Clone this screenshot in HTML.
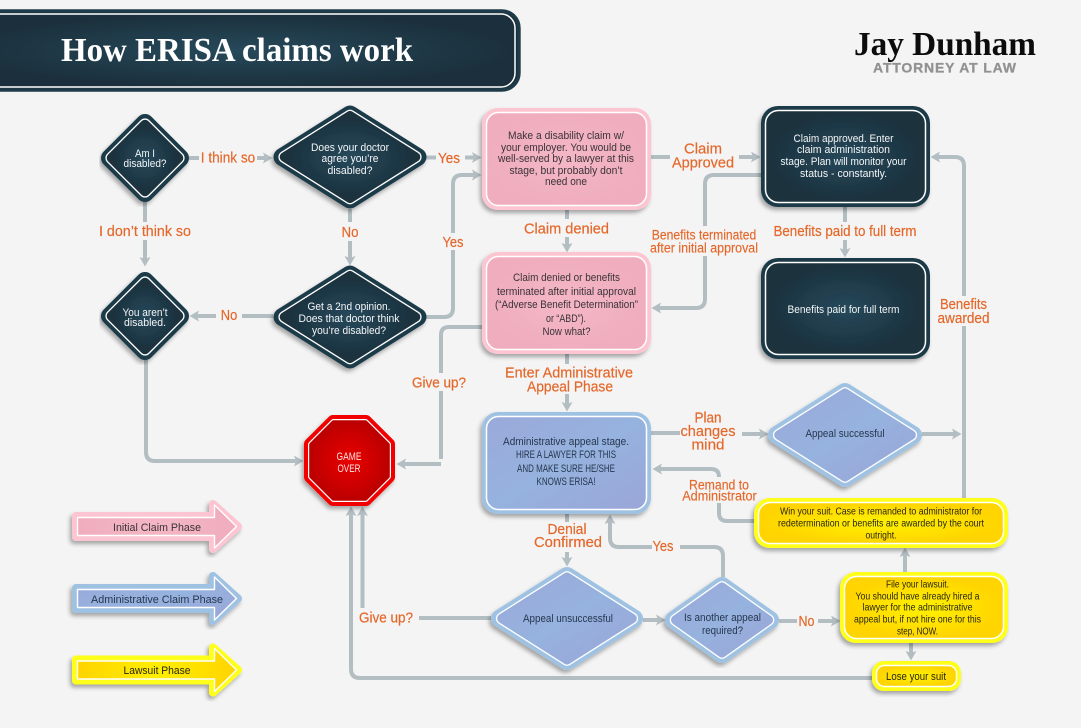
<!DOCTYPE html>
<html><head><meta charset="utf-8"><title>How ERISA claims work</title>
<style>
html,body{margin:0;padding:0;background:#f4f4f4}
svg{display:block}
text{font-family:"Liberation Sans",sans-serif;text-anchor:middle}
.o{fill:#e5682a;font-size:15px;stroke:#e5682a;stroke-width:.2px}
.s{fill:#e5682a;font-size:13.5px;stroke:#e5682a;stroke-width:.15px}
.w{fill:#f4f6f7;font-size:11px}
.p{fill:#3a3338;font-size:11px}
.b{fill:#26374f;font-size:11px}
.y{fill:#26260f;font-size:10.5px}
.c{fill:none;stroke:#b3bec3;stroke-width:4}
.a{marker-end:url(#ah)}
</style></head><body>
<svg width="1081" height="728" viewBox="0 0 1081 728" xmlns="http://www.w3.org/2000/svg">
<defs>
<radialGradient id="gd"><stop offset="0" stop-color="#26495b"/><stop offset="1" stop-color="#1b303c"/></radialGradient>
<radialGradient id="gp"><stop offset="0" stop-color="#f5b7c6"/><stop offset="1" stop-color="#efadbd"/></radialGradient>
<linearGradient id="gb" x1="0" y1="0" x2="1" y2="1"><stop offset="0" stop-color="#9aa9d9"/><stop offset=".5" stop-color="#96b2de"/><stop offset="1" stop-color="#9aa6d8"/></linearGradient>
<radialGradient id="gy"><stop offset="0" stop-color="#fff200"/><stop offset="1" stop-color="#ffd400"/></radialGradient>
<linearGradient id="gyl"><stop offset="0" stop-color="#ffd400"/><stop offset=".5" stop-color="#ffee00"/><stop offset="1" stop-color="#ffd400"/></linearGradient>
<radialGradient id="gr"><stop offset="0" stop-color="#ea0000"/><stop offset="1" stop-color="#bd0000"/></radialGradient>
<filter id="sh" x="-15%" y="-15%" width="130%" height="135%"><feDropShadow dx="-2" dy="3" stdDeviation="2.2" flood-color="#000" flood-opacity=".33"/></filter>
<marker id="ah" markerUnits="userSpaceOnUse" markerWidth="11" markerHeight="13" refX="2" refY="6.5" orient="auto" viewBox="0 0 11 13"><path d="M0,1 L9.5,6.5 L0,12 L2,6.5Z" fill="#b3bec3"/></marker>
</defs>
<rect width="1081" height="728" fill="#f4f4f4"/>

<!-- header -->
<rect x="-40" y="11" width="559" height="79" rx="17" fill="url(#gd)" stroke="#1f3b49" stroke-width="3.4"/>
<rect x="-40" y="14" width="555" height="73" rx="14" fill="url(#gd)" stroke="#fff" stroke-width="1.5"/>
<text x="237" y="61" textLength="352" lengthAdjust="spacingAndGlyphs" style="font-family:'Liberation Serif',serif;font-weight:bold;font-size:34px;fill:#fff">How ERISA claims work</text>
<text x="945" y="55" textLength="182" lengthAdjust="spacingAndGlyphs" style="font-family:'Liberation Serif',serif;font-weight:bold;font-size:34px;fill:#0c0c0c">Jay Dunham</text>
<text x="944.500" y="72.500" textLength="143" lengthAdjust="spacing" style="font-weight:bold;font-size:14px;fill:#929292;stroke:#929292;stroke-width:.3px">ATTORNEY AT LAW</text>

<!-- connectors -->
<g class="c" fill="none">
<path d="M189,158H199"/><path class="a" d="M257,158H265"/>
<path d="M426,157.500H436"/><path class="a" d="M465,157.500H474"/>
<path d="M426,317H444Q453,317 453,308V250"/><path class="a" d="M453,233V184Q453,175 462,175H474"/>
<path d="M350,209V222"/><path class="a" d="M350,241V258"/>
<path d="M145,202V222"/><path class="a" d="M145,240V259"/>
<path d="M273,316H242"/><path class="a" d="M216,316H197"/>
<path class="a" d="M146,360V452Q146,461 155,461H296"/>
<path d="M482,327H449Q441,327 441,335V373"/><path d="M441,391V459"/><path class="a" d="M441,464H404"/>
<path d="M567,210V219"/><path class="a" d="M567,237V245"/>
<path d="M567,354V364"/><path class="a" d="M567,394V404"/>
<path d="M567,514V522"/><path class="a" d="M567,552V559"/>
<path d="M651,157H670"/><path class="a" d="M739,157H753"/>
<path d="M761,175H714Q705,175 705,184V226"/><path class="a" d="M705,256V299Q705,308 696,308H659"/>
<path d="M845,207V222"/><path class="a" d="M845,240V250"/>
<path d="M964,498V326"/><path class="a" d="M964,296V166Q964,157 955,157H938"/>
<path d="M651,433H680"/><path class="a" d="M742,434H761"/>
<path class="a" d="M922,434H954"/>
<path d="M754,521H727Q719,521 719,513V503"/><path class="a" d="M719,477Q719,469 711,469H660"/>
<path d="M723,577V556Q723,547 714,547H680"/><path class="a" d="M652,547H619Q610,547 610,538V522"/>
<path class="a" d="M643,620H658"/>
<path d="M779,621H797"/><path class="a" d="M818,621H833"/>
<path class="a" d="M905,572V555"/>
<path class="a" d="M911,643V653"/>
<path class="a" d="M872,678H360Q351,678 351,669V514"/>
<path d="M491,618H419"/>
<path class="a" d="M362.500,608V514"/>
</g>

<!-- dark diamonds -->
<g filter="url(#sh)"><polygon points="145,123 180,158 145,193 110,158" fill="#1f3a48" stroke="#1f3a48" stroke-width="18" stroke-linejoin="round"/>
<polygon points="145,124.400 178.600,158 145,191.600 111.400,158" fill="#fff" stroke="#fff" stroke-width="12" stroke-linejoin="round"/>
<polygon points="145,124.400 178.600,158 145,191.600 111.400,158" fill="url(#gd)" stroke="url(#gd)" stroke-width="9.400" stroke-linejoin="round"/></g>
<g filter="url(#sh)"><polygon points="350,114.500 417.500,157 350,199.500 282.500,157" fill="#1f3a48" stroke="#1f3a48" stroke-width="18" stroke-linejoin="round"/>
<polygon points="350,115.700 415.600,157 350,198.300 284.400,157" fill="#fff" stroke="#fff" stroke-width="12" stroke-linejoin="round"/>
<polygon points="350,115.700 415.600,157 350,198.300 284.400,157" fill="url(#gd)" stroke="url(#gd)" stroke-width="9.400" stroke-linejoin="round"/></g>
<g filter="url(#sh)"><polygon points="145,281 180,316 145,351 110,316" fill="#1f3a48" stroke="#1f3a48" stroke-width="18" stroke-linejoin="round"/>
<polygon points="145,282.400 178.600,316 145,349.600 111.400,316" fill="#fff" stroke="#fff" stroke-width="12" stroke-linejoin="round"/>
<polygon points="145,282.400 178.600,316 145,349.600 111.400,316" fill="url(#gd)" stroke="url(#gd)" stroke-width="9.400" stroke-linejoin="round"/></g>
<g filter="url(#sh)"><polygon points="350,274.500 417.500,317 350,359.500 282.500,317" fill="#1f3a48" stroke="#1f3a48" stroke-width="18" stroke-linejoin="round"/>
<polygon points="350,275.700 415.600,317 350,358.300 284.400,317" fill="#fff" stroke="#fff" stroke-width="12" stroke-linejoin="round"/>
<polygon points="350,275.700 415.600,317 350,358.300 284.400,317" fill="url(#gd)" stroke="url(#gd)" stroke-width="9.400" stroke-linejoin="round"/></g>

<!-- blue diamonds -->
<g filter="url(#sh)"><polygon points="845,392 913,435 845,478 777,435" fill="#9fc2e3" stroke="#9fc2e3" stroke-width="18" stroke-linejoin="round"/>
<polygon points="845,393.200 911.100,435 845,476.800 778.900,435" fill="#fff" stroke="#fff" stroke-width="12" stroke-linejoin="round"/>
<polygon points="845,393.200 911.100,435 845,476.800 778.900,435" fill="url(#gb)" stroke="url(#gb)" stroke-width="9.400" stroke-linejoin="round"/></g>
<g filter="url(#sh)"><polygon points="567,576 634,618.500 567,661 500,618.500" fill="#9fc2e3" stroke="#9fc2e3" stroke-width="18" stroke-linejoin="round"/>
<polygon points="567,577.200 632.100,618.500 567,659.800 501.900,618.500" fill="#fff" stroke="#fff" stroke-width="12" stroke-linejoin="round"/>
<polygon points="567,577.200 632.100,618.500 567,659.800 501.900,618.500" fill="url(#gb)" stroke="url(#gb)" stroke-width="9.400" stroke-linejoin="round"/></g>
<g filter="url(#sh)"><polygon points="722,586 770,620 722,654 674,620" fill="#9fc2e3" stroke="#9fc2e3" stroke-width="18" stroke-linejoin="round"/>
<polygon points="722,587.200 768.300,620 722,652.800 675.700,620" fill="#fff" stroke="#fff" stroke-width="12" stroke-linejoin="round"/>
<polygon points="722,587.200 768.300,620 722,652.800 675.700,620" fill="url(#gb)" stroke="url(#gb)" stroke-width="9.400" stroke-linejoin="round"/></g>

<!-- boxes -->
<g filter="url(#sh)"><rect x="482" y="108" width="169" height="102" rx="16" fill="#fcc5d1"/><rect x="486.500" y="112.500" width="160" height="93" rx="12" fill="url(#gp)" stroke="#fff" stroke-width="1.500"/></g>
<g filter="url(#sh)"><rect x="482" y="252" width="169" height="102" rx="16" fill="#fcc5d1"/><rect x="486.500" y="256.500" width="160" height="93" rx="12" fill="url(#gp)" stroke="#fff" stroke-width="1.500"/></g>
<g filter="url(#sh)"><rect x="482" y="412" width="169" height="102" rx="16" fill="#9fc2e3"/><rect x="486.500" y="416.500" width="160" height="93" rx="12" fill="url(#gb)" stroke="#fff" stroke-width="1.500"/></g>
<g filter="url(#sh)"><rect x="761" y="106" width="169" height="101" rx="17" fill="#1f3a48"/><rect x="765.500" y="110.500" width="160" height="92" rx="13" fill="url(#gd)" stroke="#fff" stroke-width="1.500"/></g>
<g filter="url(#sh)"><rect x="761" y="258" width="169" height="101" rx="17" fill="#1f3a48"/><rect x="765.500" y="262.500" width="160" height="92" rx="13" fill="url(#gd)" stroke="#fff" stroke-width="1.500"/></g>
<g filter="url(#sh)"><rect x="754" y="498" width="254" height="50" rx="16" fill="#ffff1a"/><rect x="758.500" y="502.500" width="245" height="41" rx="12" fill="url(#gy)" stroke="#fff" stroke-width="1.500"/></g>
<g filter="url(#sh)"><rect x="840" y="572" width="168" height="71" rx="16" fill="#ffff1a"/><rect x="844.500" y="576.500" width="159" height="62" rx="12" fill="url(#gy)" stroke="#fff" stroke-width="1.500"/></g>
<g filter="url(#sh)"><rect x="872" y="661" width="89" height="30" rx="12" fill="#ffff1a"/><rect x="876.500" y="665.500" width="80" height="21" rx="8" fill="url(#gy)" stroke="#fff" stroke-width="1.500"/></g>

<!-- octagon -->
<g filter="url(#sh)"><polygon points="332.700,420 366.300,420 390,443.700 390,477.300 366.300,501 332.700,501 309,477.300 309,443.700" fill="#f20000" stroke="#f20000" stroke-width="10" stroke-linejoin="round"/>
<polygon points="333.500,422 365.500,422 388,444.500 388,476.500 365.500,499 333.500,499 311,476.500 311,444.500" fill="#fff" stroke="#fff" stroke-width="6" stroke-linejoin="round"/>
<polygon points="333.500,422 365.500,422 388,444.500 388,476.500 365.500,499 333.500,499 311,476.500 311,444.500" fill="url(#gr)" stroke="url(#gr)" stroke-width="3.600" stroke-linejoin="round"/></g>

<!-- legend -->
<g filter="url(#sh)"><polygon points="76,516 213,516 213,504 238,526.500 213,549 213,537 76,537" fill="#fcc5d1" stroke="#fcc5d1" stroke-width="8" stroke-linejoin="round"/>
<polygon points="77.500,517.500 214.500,517.500 214.500,505 236.500,526.500 214.500,548 214.500,535.500 77.500,535.500" fill="url(#gp)" stroke="#fff" stroke-width="1.400" stroke-linejoin="round"/></g>
<g filter="url(#sh)" transform="translate(0,72)"><polygon points="76,516 213,516 213,504 238,526.500 213,549 213,537 76,537" fill="#9fc2e3" stroke="#9fc2e3" stroke-width="8" stroke-linejoin="round"/>
<polygon points="77.500,517.500 214.500,517.500 214.500,505 236.500,526.500 214.500,548 214.500,535.500 77.500,535.500" fill="url(#gb)" stroke="#fff" stroke-width="1.400" stroke-linejoin="round"/></g>
<g filter="url(#sh)" transform="translate(0,143.500)"><polygon points="76,516 213,516 213,504 238,526.500 213,549 213,537 76,537" fill="#ffff1a" stroke="#ffff1a" stroke-width="8" stroke-linejoin="round"/>
<polygon points="77.500,517.500 214.500,517.500 214.500,505 236.500,526.500 214.500,548 214.500,535.500 77.500,535.500" fill="url(#gyl)" stroke="#fff" stroke-width="1.400" stroke-linejoin="round"/></g>

<!-- node text -->
<text class="w" x="145" y="157" textLength="20" lengthAdjust="spacingAndGlyphs">Am I</text>
<text class="w" x="145" y="167" textLength="43" lengthAdjust="spacingAndGlyphs">disabled?</text>
<text class="w" x="350" y="151" textLength="78" lengthAdjust="spacingAndGlyphs">Does your doctor</text>
<text class="w" x="350" y="162" textLength="57" lengthAdjust="spacingAndGlyphs">agree you’re</text>
<text class="w" x="350" y="174" textLength="45" lengthAdjust="spacingAndGlyphs">disabled?</text>
<text class="w" x="145" y="316" textLength="45" lengthAdjust="spacingAndGlyphs">You aren’t</text>
<text class="w" x="145" y="326" textLength="42" lengthAdjust="spacingAndGlyphs">disabled.</text>
<text class="w" x="349" y="310" textLength="83" lengthAdjust="spacingAndGlyphs">Get a 2nd opinion.</text>
<text class="w" x="349" y="322" textLength="101" lengthAdjust="spacingAndGlyphs">Does that doctor think</text>
<text class="w" x="349" y="334" textLength="74" lengthAdjust="spacingAndGlyphs">you’re disabled?</text>

<text class="p" x="566" y="139" textLength="116" lengthAdjust="spacingAndGlyphs">Make a disability claim w/</text>
<text class="p" x="566" y="151" textLength="130" lengthAdjust="spacingAndGlyphs">your employer. You would be</text>
<text class="p" x="566" y="162" textLength="136" lengthAdjust="spacingAndGlyphs">well-served by a lawyer at this</text>
<text class="p" x="566" y="174" textLength="113" lengthAdjust="spacingAndGlyphs">stage, but probably don’t</text>
<text class="p" x="566" y="185" textLength="42" lengthAdjust="spacingAndGlyphs">need one</text>

<text class="p" x="566.500" y="281" textLength="107" lengthAdjust="spacingAndGlyphs">Claim denied or benefits</text>
<text class="p" x="566.500" y="295" textLength="139" lengthAdjust="spacingAndGlyphs">terminated after initial approval</text>
<text class="p" x="566.500" y="308" textLength="143" lengthAdjust="spacingAndGlyphs">(“Adverse Benefit Determination”</text>
<text class="p" x="566" y="322" textLength="40" lengthAdjust="spacingAndGlyphs">or “ABD”).</text>
<text class="p" x="566.500" y="335" textLength="48" lengthAdjust="spacingAndGlyphs">Now what?</text>

<text class="b" x="566" y="445" textLength="126" lengthAdjust="spacingAndGlyphs">Administrative appeal stage.</text>
<text class="b" x="566" y="458" textLength="100" lengthAdjust="spacingAndGlyphs">HIRE A LAWYER FOR THIS</text>
<text class="b" x="566" y="472" textLength="98" lengthAdjust="spacingAndGlyphs">AND MAKE SURE HE/SHE</text>
<text class="b" x="566" y="485" textLength="59" lengthAdjust="spacingAndGlyphs">KNOWS ERISA!</text>

<text class="w" x="843.500" y="142" textLength="100" lengthAdjust="spacingAndGlyphs">Claim approved. Enter</text>
<text class="w" x="843.500" y="153" textLength="93" lengthAdjust="spacingAndGlyphs">claim administration</text>
<text class="w" x="843.500" y="165" textLength="126" lengthAdjust="spacingAndGlyphs">stage. Plan will monitor your</text>
<text class="w" x="843.500" y="177" textLength="87" lengthAdjust="spacingAndGlyphs">status - constantly.</text>
<text class="w" x="843.500" y="313" textLength="112" lengthAdjust="spacingAndGlyphs">Benefits paid for full term</text>

<text x="349" y="460" textLength="25" lengthAdjust="spacingAndGlyphs" style="fill:#fbe3e3;font-size:11px">GAME</text>
<text x="349" y="472" textLength="23" lengthAdjust="spacingAndGlyphs" style="fill:#fbe3e3;font-size:11px">OVER</text>

<text class="b" x="845" y="437" textLength="79" lengthAdjust="spacingAndGlyphs">Appeal successful</text>
<text class="b" x="568" y="622" textLength="90" lengthAdjust="spacingAndGlyphs">Appeal unsuccessful</text>
<text class="b" x="722.500" y="621" textLength="77" lengthAdjust="spacingAndGlyphs">Is another appeal</text>
<text class="b" x="722.500" y="634" textLength="41" lengthAdjust="spacingAndGlyphs">required?</text>

<text class="y" x="881" y="514.500" textLength="202" lengthAdjust="spacingAndGlyphs">Win your suit. Case is remanded to administrator for</text>
<text class="y" x="881" y="526.500" textLength="206" lengthAdjust="spacingAndGlyphs">redetermination or benefits are awarded by the court</text>
<text class="y" x="881" y="538.500" textLength="31" lengthAdjust="spacingAndGlyphs">outright.</text>
<text class="y" x="917.500" y="587.500" textLength="63" lengthAdjust="spacingAndGlyphs">File your lawsuit.</text>
<text class="y" x="917.500" y="599.500" textLength="124" lengthAdjust="spacingAndGlyphs">You should have already hired a</text>
<text class="y" x="917.500" y="610.500" textLength="110" lengthAdjust="spacingAndGlyphs">lawyer for the administrative</text>
<text class="y" x="917.500" y="622.500" textLength="127" lengthAdjust="spacingAndGlyphs">appeal but, if not hire one for this</text>
<text class="y" x="917.500" y="634.500" textLength="41" lengthAdjust="spacingAndGlyphs">step, NOW.</text>
<text class="y" x="916" y="680" textLength="60" lengthAdjust="spacingAndGlyphs" style="font-size:11px">Lose your suit</text>

<text class="p" x="157" y="531" textLength="88" lengthAdjust="spacingAndGlyphs">Initial Claim Phase</text>
<text class="b" x="157" y="603" textLength="132" lengthAdjust="spacingAndGlyphs">Administrative Claim Phase</text>
<text class="y" x="157" y="674" textLength="67" lengthAdjust="spacingAndGlyphs" style="font-size:11px">Lawsuit Phase</text>

<!-- connector labels -->
<text class="o" x="228" y="162.500" textLength="54.500" lengthAdjust="spacingAndGlyphs">I think so</text>
<text class="o" x="449" y="163" textLength="22" lengthAdjust="spacingAndGlyphs">Yes</text>
<text class="o" x="145" y="236" textLength="92" lengthAdjust="spacingAndGlyphs">I don’t think so</text>
<text class="o" x="350" y="237" textLength="17" lengthAdjust="spacingAndGlyphs">No</text>
<text class="o" x="453" y="247" textLength="21" lengthAdjust="spacingAndGlyphs">Yes</text>
<text class="o" x="229" y="320" textLength="16.500" lengthAdjust="spacingAndGlyphs">No</text>
<text class="o" x="566.500" y="233.500" textLength="85" lengthAdjust="spacingAndGlyphs">Claim denied</text>
<text class="o" x="703" y="153.500" textLength="38" lengthAdjust="spacingAndGlyphs">Claim</text>
<text class="o" x="703" y="167.500" textLength="62" lengthAdjust="spacingAndGlyphs">Approved</text>
<text class="s" x="704" y="239.500" textLength="104.500" lengthAdjust="spacingAndGlyphs">Benefits terminated</text>
<text class="s" x="704" y="252.500" textLength="108" lengthAdjust="spacingAndGlyphs">after initial approval</text>
<text class="o" x="845" y="236" textLength="143" lengthAdjust="spacingAndGlyphs">Benefits paid to full term</text>
<text class="o" x="963.500" y="309" textLength="47" lengthAdjust="spacingAndGlyphs">Benefits</text>
<text class="o" x="963.500" y="323" textLength="52" lengthAdjust="spacingAndGlyphs">awarded</text>
<text class="o" x="439" y="387.500" textLength="54" lengthAdjust="spacingAndGlyphs">Give up?</text>
<text class="o" x="569" y="377.500" textLength="128" lengthAdjust="spacingAndGlyphs">Enter Administrative</text>
<text class="o" x="570" y="391.500" textLength="86" lengthAdjust="spacingAndGlyphs">Appeal Phase</text>
<text class="o" x="708" y="422.500" textLength="27" lengthAdjust="spacingAndGlyphs">Plan</text>
<text class="o" x="708" y="436" textLength="55" lengthAdjust="spacingAndGlyphs">changes</text>
<text class="o" x="708" y="449.500" textLength="33" lengthAdjust="spacingAndGlyphs">mind</text>
<text class="s" x="719" y="489.500" textLength="60" lengthAdjust="spacingAndGlyphs">Remand to</text>
<text class="s" x="719.500" y="500.500" textLength="74.500" lengthAdjust="spacingAndGlyphs">Administrator</text>
<text class="o" x="567" y="534" textLength="39" lengthAdjust="spacingAndGlyphs">Denial</text>
<text class="o" x="568" y="547" textLength="68" lengthAdjust="spacingAndGlyphs">Confirmed</text>
<text class="o" x="663" y="551" textLength="21" lengthAdjust="spacingAndGlyphs">Yes</text>
<text class="o" x="806.500" y="626" textLength="16" lengthAdjust="spacingAndGlyphs">No</text>
<text class="o" x="386" y="622.500" textLength="54" lengthAdjust="spacingAndGlyphs">Give up?</text>
</svg>
</body></html>
